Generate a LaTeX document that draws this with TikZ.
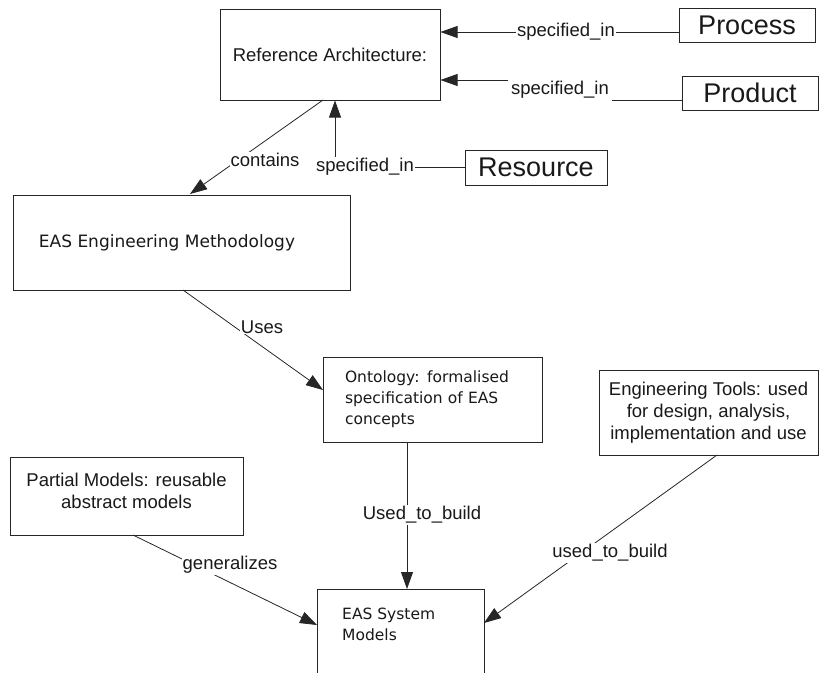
\documentclass[tikz,border=0pt]{standalone}
\usepackage{fontspec}
\setmainfont{Liberation Sans}
\newfontfamily\tah{DejaVu Sans}
\usetikzlibrary{arrows.meta}
\begin{document}
\begin{tikzpicture}[x=1pt,y=-1pt,
  box/.style={draw=black!85, line width=1pt, inner sep=0pt, text=black!90},
  arial/.style={font=\fontsize{18.5}{22}\selectfont},
  big/.style={font=\fontsize{27}{32}\selectfont},
  tahl/.style={font=\tah\fontsize{17}{21}\selectfont},
  tahs/.style={font=\tah\fontsize{15.5}{21}\selectfont},
  con/.style={draw=black!85, line width=0.8pt},
  arr/.style={con, -{Triangle[length=17pt,width=12pt]}},
  lbl/.style={fill=white, inner sep=1pt, font=\fontsize{18.5}{22}\selectfont, text=black!90}]
\fill[white] (0,0) rectangle (819,672);
\useasboundingbox (0,0) rectangle (819,672);

% boxes
\node[box, arial, minimum width=220pt, minimum height=91pt] (ra) at (330,54.5) {Reference Architecture:};
\node[box, big, minimum width=136pt, minimum height=34pt] (proc) at (747,25) {Process};
\node[box, big, minimum width=136pt, minimum height=34pt] (prod) at (750,93) {Product};
\node[box, big, minimum width=142pt, minimum height=35pt] (res) at (536,167.5) {Resource};
\node[box, tahl, minimum width=337pt, minimum height=95pt] (meth) at (181.5,242.5) {EAS Engineering Methodology\kern29pt};
\node[box, tahs, minimum width=219pt, minimum height=85pt, text width=175pt, align=left] (ont) at (432.5,399.5) {Ontology: formalised\\specification of EAS\\concepts};
\node[box, arial, minimum width=219pt, minimum height=85pt, align=center] (tools) at (708.5,412.5) {Engineering Tools: used\\for design, analysis,\\implementation and use};
\node[box, minimum width=233pt, minimum height=78pt] (part) at (126.5,496) {};
\node[arial, align=center, inner sep=0pt, text=black!90] (parttxt) at (126.5,491) {Partial Models: reusable\\abstract models};
\node[box, minimum width=167pt, minimum height=101pt, anchor=north west] (sys) at (317,589) {};
\node[tahs, anchor=north west, align=left, inner sep=0pt, text=black!90] (systxt) at (342,608) {EAS System\\Models};

% connector end points
\coordinate (q1) at (612,100);
\coordinate (q2) at (508,80);
\coordinate (rx) at (335,0);
\coordinate (a1) at (323,100);
\coordinate (a2) at (190,194);
\coordinate (u1) at (183,290);
\coordinate (u2) at (323,390);
\coordinate (v1) at (407,442);
\coordinate (v2) at (407,589);
\coordinate (g1) at (133,535);
\coordinate (g2) at (317,625);
\coordinate (t1) at (717,455);
\coordinate (t2) at (484,623);

% connectors
\node[lbl] (lp1) at (566,32) {specified\_in};
\draw[con] (proc.west |- lp1) -- (lp1.east);
\draw[arr] (lp1.west) -- (ra.east |- lp1);

\draw[con] (prod.west |- q1) -- (q1);
\draw[arr] (q2) -- (ra.east |- q2);
\node[lbl] (lp2) at (560,90) {specified\_in};

\draw[arr] (res.west) -| (ra.south -| rx);
\node[lbl] (lp3) at (365,167) {specified\_in};

\draw[arr] (a1) -- (a2);
\node[lbl] (lc) at (265,160) {contains};

\draw[arr] (u1) -- (u2);
\node[lbl] (lu) at (262,327) {Uses};

\draw[arr] (v1) -- (v2);
\node[lbl] (lv) at (422,515) {Used\_to\_build};

\draw[arr] (g1) -- (g2);
\node[lbl] (lg) at (230,565) {generalizes};

\draw[arr] (t1) -- (t2);
\node[lbl] (lt) at (610,553) {used\_to\_build};
\end{tikzpicture}
\end{document}
